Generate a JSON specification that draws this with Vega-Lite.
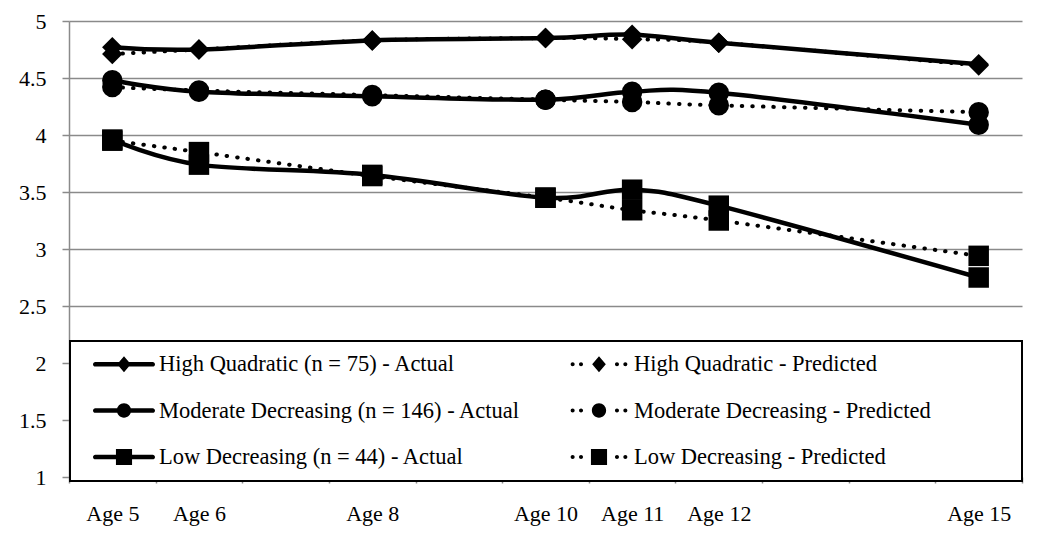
{
  "$schema": "https://vega.github.io/schema/vega-lite/v6.json",
  "width": 953,
  "height": 456,
  "autosize": {"type": "none"},
  "padding": {"left": 69, "top": 21, "right": 28, "bottom": 76},
  "background": "white",
  "config": {
    "view": {"stroke": null},
    "font": "Liberation Serif",
    "legend": {"strokeWidth": 2},
    "axis": {
      "labelFont": "Liberation Serif",
      "labelFontSize": 22,
      "labelColor": "black",
      "domainColor": "#8a8a8a",
      "domainWidth": 1.5,
      "tickColor": "#8a8a8a",
      "tickWidth": 1.5,
      "gridColor": "#8a8a8a",
      "gridWidth": 1.5,
      "title": null
    }
  },
  "data": {
    "values": [
      {"age": 5, "group": "High Quadratic", "type": "Actual", "score": 4.77},
      {"age": 6, "group": "High Quadratic", "type": "Actual", "score": 4.75},
      {"age": 8, "group": "High Quadratic", "type": "Actual", "score": 4.83},
      {"age": 10, "group": "High Quadratic", "type": "Actual", "score": 4.85},
      {"age": 11, "group": "High Quadratic", "type": "Actual", "score": 4.88},
      {"age": 12, "group": "High Quadratic", "type": "Actual", "score": 4.81},
      {"age": 15, "group": "High Quadratic", "type": "Actual", "score": 4.62},
      {"age": 5, "group": "High Quadratic", "type": "Predicted", "score": 4.71},
      {"age": 6, "group": "High Quadratic", "type": "Predicted", "score": 4.75},
      {"age": 8, "group": "High Quadratic", "type": "Predicted", "score": 4.83},
      {"age": 10, "group": "High Quadratic", "type": "Predicted", "score": 4.85},
      {"age": 11, "group": "High Quadratic", "type": "Predicted", "score": 4.84},
      {"age": 12, "group": "High Quadratic", "type": "Predicted", "score": 4.81},
      {"age": 15, "group": "High Quadratic", "type": "Predicted", "score": 4.61},
      {"age": 5, "group": "Moderate Decreasing", "type": "Actual", "score": 4.48},
      {"age": 6, "group": "Moderate Decreasing", "type": "Actual", "score": 4.38},
      {"age": 8, "group": "Moderate Decreasing", "type": "Actual", "score": 4.34},
      {"age": 10, "group": "Moderate Decreasing", "type": "Actual", "score": 4.31},
      {"age": 11, "group": "Moderate Decreasing", "type": "Actual", "score": 4.38},
      {"age": 12, "group": "Moderate Decreasing", "type": "Actual", "score": 4.37},
      {"age": 15, "group": "Moderate Decreasing", "type": "Actual", "score": 4.09},
      {"age": 5, "group": "Moderate Decreasing", "type": "Predicted", "score": 4.42},
      {"age": 6, "group": "Moderate Decreasing", "type": "Predicted", "score": 4.39},
      {"age": 8, "group": "Moderate Decreasing", "type": "Predicted", "score": 4.35},
      {"age": 10, "group": "Moderate Decreasing", "type": "Predicted", "score": 4.31},
      {"age": 11, "group": "Moderate Decreasing", "type": "Predicted", "score": 4.29},
      {"age": 12, "group": "Moderate Decreasing", "type": "Predicted", "score": 4.26},
      {"age": 15, "group": "Moderate Decreasing", "type": "Predicted", "score": 4.2},
      {"age": 5, "group": "Low Decreasing", "type": "Actual", "score": 3.96},
      {"age": 6, "group": "Low Decreasing", "type": "Actual", "score": 3.74},
      {"age": 8, "group": "Low Decreasing", "type": "Actual", "score": 3.65},
      {"age": 10, "group": "Low Decreasing", "type": "Actual", "score": 3.45},
      {"age": 11, "group": "Low Decreasing", "type": "Actual", "score": 3.52},
      {"age": 12, "group": "Low Decreasing", "type": "Actual", "score": 3.38},
      {"age": 15, "group": "Low Decreasing", "type": "Actual", "score": 2.75},
      {"age": 5, "group": "Low Decreasing", "type": "Predicted", "score": 3.95},
      {"age": 6, "group": "Low Decreasing", "type": "Predicted", "score": 3.85},
      {"age": 8, "group": "Low Decreasing", "type": "Predicted", "score": 3.64},
      {"age": 10, "group": "Low Decreasing", "type": "Predicted", "score": 3.45},
      {"age": 11, "group": "Low Decreasing", "type": "Predicted", "score": 3.34},
      {"age": 12, "group": "Low Decreasing", "type": "Predicted", "score": 3.25},
      {"age": 15, "group": "Low Decreasing", "type": "Predicted", "score": 2.94}
    ]
  },
  "encoding": {
    "x": {
      "field": "age",
      "type": "quantitative",
      "scale": {"domain": [4.5, 15.5], "nice": false, "zero": false},
      "axis": {
        "values": [4.5, 5.5, 6.5, 7.5, 8.5, 9.5, 10.5, 11.5, 12.5, 13.5, 14.5, 15.5],
        "labelExpr": "indexof([4.5, 5.5, 7.5, 9.5, 10.5, 11.5, 14.5], datum.value) >= 0 ? 'Age ' + (datum.value + 0.5) : ''",
        "labelOffset": 43.35,
        "labelOverlap": false,
        "labelBound": false,
        "labelFlush": false,
        "labelPadding": 20,
        "tickSize": 6,
        "grid": false
      }
    },
    "y": {
      "field": "score",
      "type": "quantitative",
      "scale": {"domain": [1, 5], "nice": false, "zero": false},
      "axis": {
        "values": [1, 1.5, 2, 2.5, 3, 3.5, 4, 4.5, 5],
        "format": "~g",
        "tickSize": 7,
        "labelPadding": 16,
        "grid": true
      }
    }
  },
  "layer": [
    {
      "transform": [{"filter": "datum.type === 'Actual'"}],
      "mark": {"type": "line", "color": "black", "strokeWidth": 4.5, "interpolate": "cardinal", "strokeCap": "round"},
      "encoding": {"detail": {"field": "group"}}
    },
    {
      "transform": [{"filter": "datum.type === 'Predicted'"}],
      "mark": {"type": "line", "color": "black", "strokeWidth": 4, "interpolate": "cardinal", "strokeCap": "round", "strokeDash": [0.5, 10]},
      "encoding": {"detail": {"field": "group"}}
    },
    {
      "mark": {"type": "point", "filled": true, "color": "black", "opacity": 1, "size": 420},
      "encoding": {
        "shape": {
          "field": "group",
          "type": "nominal",
          "scale": {"domain": ["High Quadratic", "Moderate Decreasing", "Low Decreasing"], "range": ["diamond", "circle", "square"]},
          "legend": null
        }
      }
    },
    {
      "data": {
        "values": [
          {"series": "High Quadratic (n = 75) - Actual"},
          {"series": "High Quadratic - Predicted"},
          {"series": "Moderate Decreasing (n = 146) - Actual"},
          {"series": "Moderate Decreasing - Predicted"},
          {"series": "Low Decreasing (n = 44) - Actual"},
          {"series": "Low Decreasing - Predicted"}
        ]
      },
      "transform": [{"filter": "false"}],
      "mark": {"type": "point", "filled": true, "color": "black", "opacity": 1},
      "encoding": {
        "x": {"value": 0},
        "y": {"value": 0},
        "shape": {
          "field": "series",
          "type": "nominal",
          "scale": {
            "domain": [
              "High Quadratic (n = 75) - Actual",
              "High Quadratic - Predicted",
              "Moderate Decreasing (n = 146) - Actual",
              "Moderate Decreasing - Predicted",
              "Low Decreasing (n = 44) - Actual",
              "Low Decreasing - Predicted"
            ],
            "range": [
              "M-0.925,-0.075H0.925A0.075,0.075 0 0,1 0.925,0.075H-0.925A0.075,0.075 0 0,1 -0.925,-0.075Z M0,-0.26L0.22,0L0,0.26L-0.22,0Z",
              "M-0.915,0A0.065,0.065 0 1,1 -0.785,0A0.065,0.065 0 1,1 -0.915,0Z M-0.645,0A0.065,0.065 0 1,1 -0.515,0A0.065,0.065 0 1,1 -0.645,0Z M0.515,0A0.065,0.065 0 1,1 0.645,0A0.065,0.065 0 1,1 0.515,0Z M0.785,0A0.065,0.065 0 1,1 0.915,0A0.065,0.065 0 1,1 0.785,0Z M0,-0.26L0.22,0L0,0.26L-0.22,0Z",
              "M-0.925,-0.075H0.925A0.075,0.075 0 0,1 0.925,0.075H-0.925A0.075,0.075 0 0,1 -0.925,-0.075Z M-0.23,0A0.23,0.23 0 1,1 0.23,0A0.23,0.23 0 1,1 -0.23,0Z",
              "M-0.915,0A0.065,0.065 0 1,1 -0.785,0A0.065,0.065 0 1,1 -0.915,0Z M-0.645,0A0.065,0.065 0 1,1 -0.515,0A0.065,0.065 0 1,1 -0.645,0Z M0.515,0A0.065,0.065 0 1,1 0.645,0A0.065,0.065 0 1,1 0.515,0Z M0.785,0A0.065,0.065 0 1,1 0.915,0A0.065,0.065 0 1,1 0.785,0Z M-0.23,0A0.23,0.23 0 1,1 0.23,0A0.23,0.23 0 1,1 -0.23,0Z",
              "M-0.925,-0.075H0.925A0.075,0.075 0 0,1 0.925,0.075H-0.925A0.075,0.075 0 0,1 -0.925,-0.075Z M-0.26,-0.26H0.26V0.26H-0.26Z",
              "M-0.915,0A0.065,0.065 0 1,1 -0.785,0A0.065,0.065 0 1,1 -0.915,0Z M-0.645,0A0.065,0.065 0 1,1 -0.515,0A0.065,0.065 0 1,1 -0.645,0Z M0.515,0A0.065,0.065 0 1,1 0.645,0A0.065,0.065 0 1,1 0.515,0Z M0.785,0A0.065,0.065 0 1,1 0.915,0A0.065,0.065 0 1,1 0.785,0Z M-0.26,-0.26H0.26V0.26H-0.26Z"
            ]
          },
          "legend": {
            "orient": "none",
            "legendX": 1,
            "legendY": 320,
            "direction": "horizontal",
            "columns": 2,
            "title": null,
            "padding": 12,
            "strokeColor": "black",
            "fillColor": "white",
            "cornerRadius": 0,
            "symbolSize": 3844,
            "clipHeight": 22,
            "symbolStrokeWidth": 0,
            "symbolFillColor": "black",
            "symbolStrokeColor": "black",
            "symbolOffset": 11,
            "labelOffset": 4,
            "labelFont": "Liberation Serif",
            "labelFontSize": 22.5,
            "labelColor": "black",
            "labelLimit": 0,
            "columnPadding": 36,
            "rowPadding": 23.5,
            "labelExpr": "indexof(datum.label, 'Predicted') >= 0 ? datum.label + '\u00a0\u00a0\u00a0\u00a0\u00a0\u00a0\u00a0\u00a0\u00a0\u00a0\u00a0\u00a0\u00a0\u00a0\u200b' : datum.label"
          }
        }
      }
    }
  ],
  "resolve": {"scale": {"shape": "independent"}}
}
